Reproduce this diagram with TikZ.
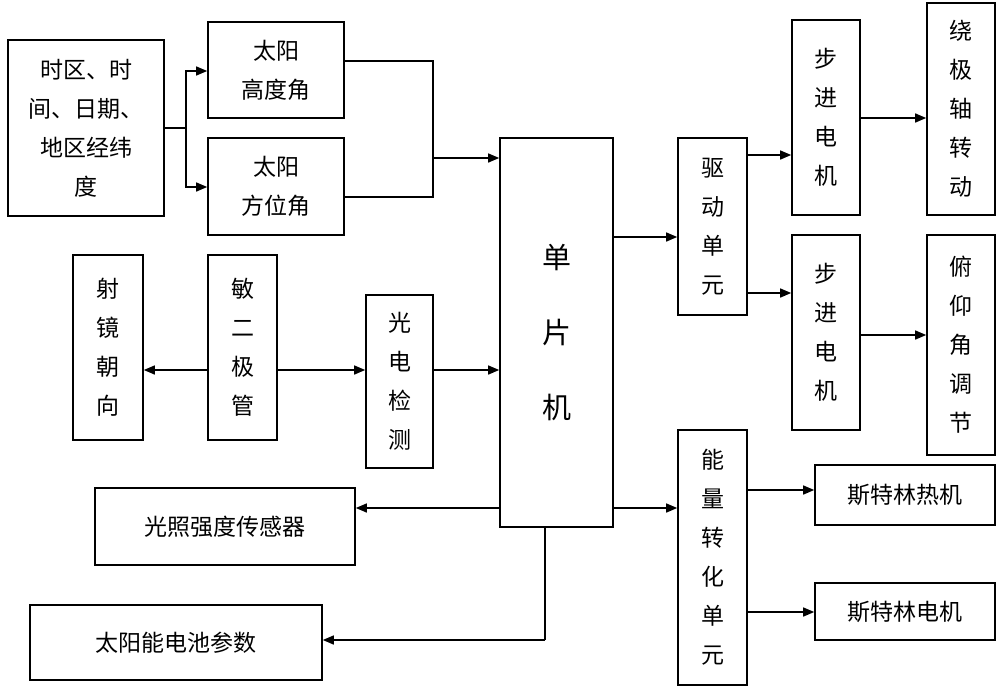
\documentclass[tikz,border=0pt]{standalone}
\usepackage{fontspec}
\newfontfamily\cjk{Noto Sans CJK SC}
\usetikzlibrary{arrows.meta}
\begin{document}
\begin{tikzpicture}[x=1pt,y=-1pt,
 box/.style={draw,line width=1.6pt,inner sep=0pt,align=center,font=\cjk\fontsize{23}{39}\selectfont},
 big/.style={font=\cjk\fontsize{29}{75}\selectfont},
 ln/.style={line width=1.4pt},
 ar/.style={ln,-{Triangle[length=11pt,width=9pt]}}]
\useasboundingbox (0,0) rectangle (1000,688);
\newcommand\bx[7][]{\node[box,#1,minimum width={#5-#3},minimum height={#6-#4}] (#2) at ({(#3+#5)/2},{(#4+#6)/2}) {#7};}
\bx{A}{8}{40}{164}{216}{时区、时\\间、日期、\\地区经纬\\度}
\bx{H}{208}{22}{344}{118}{太阳\\高度角}
\bx{F}{208}{138}{344}{235}{太阳\\方位角}
\bx{S}{73}{255}{143}{440}{射\\镜\\朝\\向}
\bx{M}{208}{255}{277}{440}{敏\\二\\极\\管}
\bx{G}{366}{295}{433}{468}{光\\电\\检\\测}
\bx[big]{C}{500}{138}{613}{527}{单\\片\\机}
\bx{L}{95}{488}{355}{565}{光照强度传感器}
\bx{B}{30}{605}{322}{680}{太阳能电池参数}
\bx{D}{678}{138}{747}{315}{驱\\动\\单\\元}
\bx{P1}{792}{20}{860}{215}{步\\进\\电\\机}
\bx{P2}{792}{235}{860}{430}{步\\进\\电\\机}
\bx{R}{927}{3}{995}{215}{绕\\极\\轴\\转\\动}
\bx{Y}{927}{235}{995}{455}{俯\\仰\\角\\调\\节}
\bx{E}{678}{430}{747}{685}{能\\量\\转\\化\\单\\元}
\bx{T}{815}{465}{995}{525}{斯特林热机}
\bx{K}{815}{583}{995}{640}{斯特林电机}
\coordinate (a1) at (186,128);
\draw[ln] (A.east|-a1) -- (a1);
\draw[ar] (a1) |- (H.west|-0,71);
\draw[ar] (a1) |- (F.west|-0,187);
\coordinate (j) at (433,158);
\draw[ln] (H.east|-0,61) -| (j);
\draw[ln] (F.east|-0,197) -| (j);
\draw[ar] (j) -- (C.west|-j);
\draw[ar] (M.west|-0,370) -- (S.east|-0,370);
\draw[ar] (M.east|-0,370) -- (G.west|-0,370);
\draw[ar] (G.east|-0,370) -- (C.west|-0,370);
\draw[ar] (C.west|-0,508) -- (L.east|-0,508);
\coordinate (c1) at (545,640);
\draw[ln] (C.south-|c1) -- (c1);
\draw[ar] (c1) -- (B.east|-c1);
\draw[ar] (C.east|-0,237) -- (D.west|-0,237);
\draw[ar] (D.east|-0,155) -- (P1.west|-0,155);
\draw[ar] (D.east|-0,293) -- (P2.west|-0,293);
\draw[ar] (P1.east|-0,118) -- (R.west|-0,118);
\draw[ar] (P2.east|-0,335) -- (Y.west|-0,335);
\draw[ar] (C.east|-0,508) -- (E.west|-0,508);
\draw[ar] (E.east|-0,490) -- (T.west|-0,490);
\draw[ar] (E.east|-0,612) -- (K.west|-0,612);
\end{tikzpicture}
\end{document}
